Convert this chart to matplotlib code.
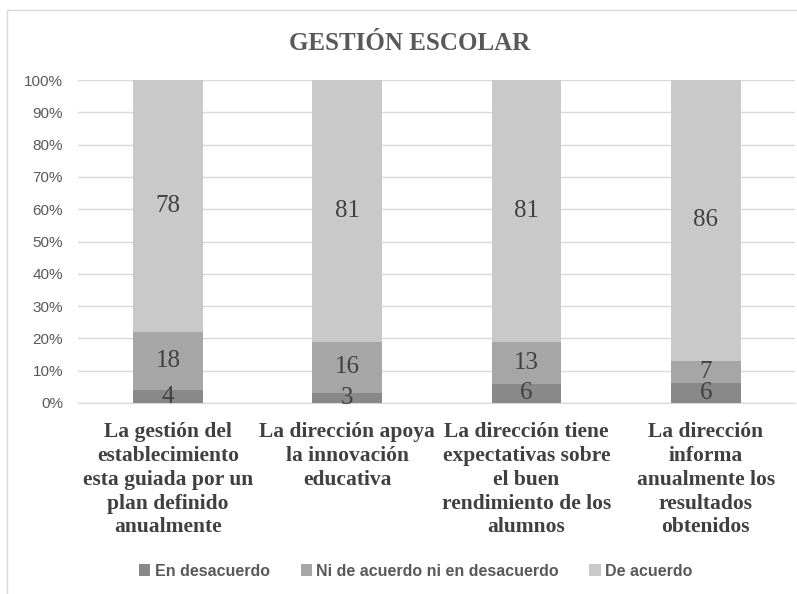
import matplotlib
matplotlib.use("Agg")
import matplotlib.pyplot as plt
import numpy as np
from matplotlib.patches import Rectangle

categories = [
    "La gestión del\nestablecimiento\nesta guiada por un\nplan definido\nanualmente",
    "La dirección apoya\nla innovación\neducativa",
    "La dirección tiene\nexpectativas sobre\nel buen\nrendimiento de los\nalumnos",
    "La dirección\ninforma\nanualmente los\nresultados\nobtenidos",
]
series_names = ["En desacuerdo", "Ni de acuerdo ni en desacuerdo", "De acuerdo"]
en_desacuerdo = [4, 3, 6, 6]
ni_ni = [18, 16, 13, 7]
de_acuerdo = [78, 81, 81, 86]
y_ticks = [0, 10, 20, 30, 40, 50, 60, 70, 80, 90, 100]

colors = ["#898989", "#a6a6a6", "#c9c9c9"]
label_color = "#404040"

fig = plt.figure(figsize=(7.97, 5.94), dpi=100)
ax = fig.add_axes([78.4 / 797, 1 - 403 / 594, 717 / 797, 323 / 594])

data = np.array([en_desacuerdo, ni_ni, de_acuerdo], dtype=float)
totals = data.sum(axis=0)
pct = data / totals * 100
x = np.arange(len(categories))
bottom = np.zeros(len(categories))
for i, name in enumerate(series_names):
    bars = ax.bar(x, pct[i], 0.39, bottom=bottom, color=colors[i], label=name,
                  zorder=3, edgecolor="none")
    ax.bar_label(bars, labels=[f"{int(v)}" for v in data[i]], label_type="center",
                 fontsize=18, color=label_color, family="Liberation Serif", zorder=4)
    bottom += pct[i]

ax.set_xlim(-0.5, len(categories) - 0.5)
ax.set_ylim(0, 100)
ax.set_yticks(y_ticks)
ax.set_yticklabels([f"{v}%" for v in y_ticks], fontsize=11, color="#595959",
                   family="Liberation Sans")
ax.tick_params(axis="y", length=0, pad=11)
ax.set_xticks(x)
ax.set_xticklabels(categories, fontsize=15.5, fontweight="bold", color=label_color,
                   family="Liberation Serif", linespacing=1.25)
ax.tick_params(axis="x", length=0, pad=14)
ax.grid(axis="y", color="#d9d9d9", linewidth=1, zorder=0)
for s in ["top", "right", "left"]:
    ax.spines[s].set_visible(False)
ax.spines["bottom"].set_color("#d9d9d9")
ax.spines["bottom"].set_zorder(1)

fig.text(410 / 797, 1 - 44 / 594, "GESTIÓN ESCOLAR", ha="center", va="center",
         fontsize=18, fontweight="bold", color="#595959", family="Liberation Serif")

handles, labels = ax.get_legend_handles_labels()
leg = fig.legend(handles, labels, loc="center", bbox_to_anchor=(416 / 797, 1 - 571 / 594),
                 ncol=3, frameon=False, handlelength=0.7, handleheight=0.7,
                 handletextpad=0.3, columnspacing=1.9,
                 prop={"family": "Liberation Sans", "weight": "bold", "size": 11.5})
for t in leg.get_texts():
    t.set_color("#595959")

fig.patches.append(Rectangle((7 / 797, -0.1), 2, 1.1 - 10 / 594, transform=fig.transFigure,
                             fill=False, edgecolor="#d9d9d9", linewidth=1))

fig.savefig("out.png", dpi=100, facecolor="white")
